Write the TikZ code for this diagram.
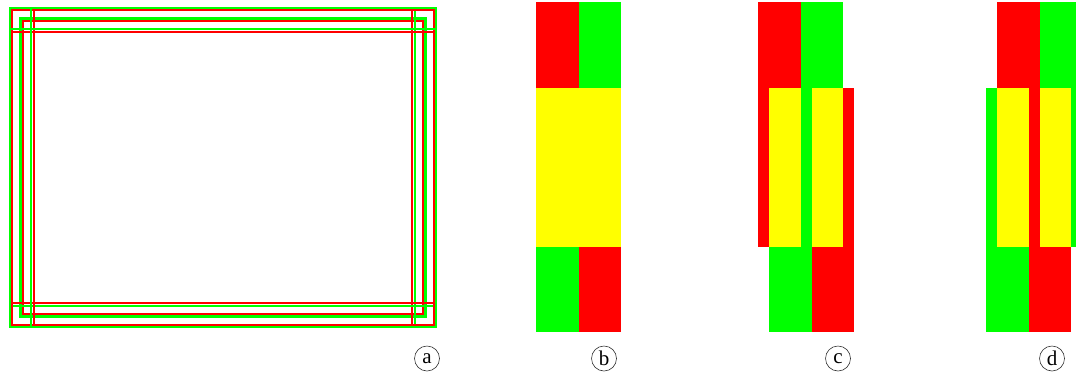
\documentclass[tikz,border=0pt]{standalone}
\usepackage{fontspec}
\setmainfont{Liberation Serif}
\usetikzlibrary{positioning}
\definecolor{pureyellow}{RGB}{255,255,0}
\definecolor{purered}{RGB}{255,0,0}
\definecolor{puregreen}{RGB}{0,255,0}

\begin{document}
\begin{tikzpicture}[
        x=1pt, y=-1pt,
        outerline/.style = {draw=puregreen, line width=2.4pt},
        innerline/.style = {draw=purered, line width=1.9pt},
        block/.style = {draw=none},
        tag/.style = {
                circle,
                draw=black!80,
                line width=0.6pt,
                minimum size=25pt,
                inner sep=0pt,
                font=\fontsize{21}{21}\selectfont
            }
    ]
    \useasboundingbox (0,0) rectangle (1076,376);
    \clip (0,0) rectangle (1076,376);

    \foreach \dx/\dy in {0/0, -1/-1, -1/1, 1/-1, 1/1} {
        \draw[outerline] (20.5+10.75*\dx, 18.5+10.75*\dy) rectangle (425.5+10.75*\dx, 316.5+10.75*\dy);
        \draw[innerline] (23+10.75*\dx, 21+10.75*\dy) rectangle (423+10.75*\dx, 314+10.75*\dy);
    }

    \foreach \xt/\xb in {536/536, 758/769, 997/986} {
        \pgfmathsetmacro{\lo}{min(\xt,\xb)}
        \pgfmathsetmacro{\hi}{max(\xt,\xb)}
        \fill[block, purered] (\xt,2) rectangle ++(42.5,244.5);
        \fill[block, puregreen] (\xt+42.5,2) rectangle ++(42.5,244.5);
        \fill[block, puregreen] (\xb,88) rectangle ++(42.5,244);
        \fill[block, purered] (\xb+42.5,88) rectangle ++(42.5,244);
        \fill[block, pureyellow] (\hi,88) rectangle (\lo+42.5,246.5);
        \fill[block, pureyellow] (\hi+42.5,88) rectangle (\lo+85,246.5);
    }

    \node[tag] (taga) at (427,358.5) {a};
    \node[tag] (tagb) at (604,358.5) {b};
    \node[tag] (tagc) at (838,358.5) {c};
    \node[tag] (tagd) at (1052,358.5) {d};
\end{tikzpicture}
\end{document}
